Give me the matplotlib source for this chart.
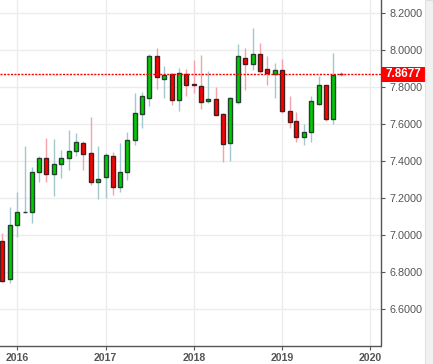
import pandas as pd
import matplotlib
matplotlib.use("Agg")
import matplotlib.pyplot as plt
import matplotlib.dates as mdates
from matplotlib.patches import Rectangle

plt.rcParams["font.family"] = ["Liberation Sans", "DejaVu Sans"]

# Monthly candles (open, high, low, close)
months = pd.date_range("2015-11-01", "2019-09-01", freq="MS")
opens = [6.968, 6.760, 7.052, 7.123, 7.123, 7.339, 7.414, 7.328, 7.382, 7.418, 7.456, 7.495,
         7.441, 7.288, 7.315, 7.427, 7.261, 7.339, 7.515, 7.656, 7.742, 7.968, 7.845, 7.868,
         7.728, 7.868, 7.815, 7.805, 7.723, 7.735, 7.654, 7.499, 7.721, 7.955, 7.923, 7.978,
         7.897, 7.872, 7.890, 7.668, 7.614, 7.528, 7.555, 7.710, 7.809, 7.625, 7.869]
highs = [7.009, 7.151, 7.232, 7.481, 7.369, 7.427, 7.526, 7.519, 7.459, 7.568, 7.550, 7.510,
         7.640, 7.481, 7.443, 7.450, 7.499, 7.559, 7.766, 7.773, 7.977, 8.013, 7.914, 7.868,
         7.903, 7.897, 7.946, 7.973, 7.888, 7.802, 7.658, 7.748, 8.034, 8.013, 8.119, 8.040,
         7.968, 7.932, 7.951, 7.751, 7.663, 7.600, 7.751, 7.859, 7.809, 7.982, 7.883]
lows = [6.745, 6.742, 6.991, 7.117, 7.063, 7.288, 7.288, 7.213, 7.310, 7.351, 7.429, 7.351,
        7.270, 7.195, 7.202, 7.216, 7.234, 7.297, 7.486, 7.580, 7.697, 7.789, 7.742, 7.703,
        7.672, 7.753, 7.769, 7.683, 7.715, 7.647, 7.396, 7.402, 7.708, 7.784, 7.892, 7.877,
        7.811, 7.742, 7.658, 7.577, 7.505, 7.486, 7.503, 7.703, 7.618, 7.600, 7.861]
closes = [6.753, 7.052, 7.123, 7.125, 7.339, 7.414, 7.328, 7.384, 7.414, 7.454, 7.501, 7.440,
          7.288, 7.301, 7.431, 7.261, 7.339, 7.512, 7.659, 7.750, 7.968, 7.852, 7.863, 7.728,
          7.874, 7.809, 7.813, 7.721, 7.735, 7.650, 7.494, 7.739, 7.968, 7.926, 7.978, 7.888,
          7.877, 7.890, 7.668, 7.613, 7.528, 7.555, 7.723, 7.809, 7.625, 7.867, 7.8677]
last_price = 7.8677
year_ticks = ["2016", "2017", "2018", "2019", "2020"]
price_ticks = [6.6, 6.8, 7.0, 7.2, 7.4, 7.6, 7.8, 8.0, 8.2]

df = pd.DataFrame({"date": months, "open": opens, "high": highs, "low": lows, "close": closes})
df["x"] = mdates.date2num(df["date"])
df["up"] = df["close"] >= df["open"]

fig = plt.figure(figsize=(4.33, 3.64), dpi=100)
ax = fig.add_axes([0, 1 - 346 / 364, 381 / 433, 346 / 364])

# wicks
for up, wick_col in [(True, "#a3c7cf"), (False, "#f4a3ad")]:
    d = df[df["up"] == up]
    ax.vlines(d["x"], d["low"], d["high"], color=wick_col, lw=1, zorder=2)

# bodies
for up, body_col, edge_col in [(True, "#00cc00", "#24422f"), (False, "#ff0000", "#4a1d1d")]:
    d = df[df["up"] == up]
    bottom = d[["open", "close"]].min(axis=1)
    height = (d["close"] - d["open"]).abs()
    ax.bar(d["x"], height, bottom=bottom, width=17, color=body_col,
           edgecolor=edge_col, linewidth=1, zorder=3)

# last price line and label
ax.axhline(last_price, color="red", lw=1, ls=(0, (1.5, 1)), zorder=4)
box_h = 15.6 / 185
ax.add_patch(Rectangle((1.0, last_price - box_h / 2), 45 / 381, box_h,
                       transform=ax.get_yaxis_transform(), fc="red", ec="none",
                       clip_on=False, zorder=6))
ax.text(1.0 + 22.5 / 381, last_price, "7.8677", transform=ax.get_yaxis_transform(),
        ha="center", va="center", color="white", fontsize=8.4, fontweight="bold",
        clip_on=False, zorder=7)

ax.set_xlim(mdates.date2num(pd.Timestamp("2015-10-22")), mdates.date2num(pd.Timestamp("2020-02-14")))
ax.set_ylim(6.4, 8.27)

ax.set_xticks(mdates.date2num(pd.to_datetime([y + "-01-01" for y in year_ticks])))
ax.set_xticklabels(year_ticks)
ax.set_yticks(price_ticks)
ax.set_yticklabels(["%.4f" % v for v in price_ticks])

ax.yaxis.tick_right()
ax.tick_params(axis="y", colors="#555555", labelsize=7.8, length=3, pad=3)
ax.tick_params(axis="x", colors="#555555", labelsize=7.6, length=3, pad=2)
for lab in ax.get_xticklabels():
    lab.set_fontweight("bold")

for s in ["top", "left"]:
    ax.spines[s].set_visible(False)
for s in ["right", "bottom"]:
    ax.spines[s].set_color("#555555")
    ax.spines[s].set_linewidth(1)

ax.grid(True, color="#ececec", lw=1, zorder=0)
ax.set_axisbelow(True)

# mask labels past the plot edge, and the scrollbar strip
fig.add_artist(Rectangle((382 / 433, 0), 43 / 433, 18 / 364, transform=fig.transFigure,
                         fc="white", ec="none", zorder=5))
fig.add_artist(Rectangle((425 / 433, 0), 8 / 433, 1, transform=fig.transFigure,
                         fc="#f1f1f1", ec="#e0e0e0", lw=0.8, zorder=5))

fig.savefig("out.png", dpi=100)
